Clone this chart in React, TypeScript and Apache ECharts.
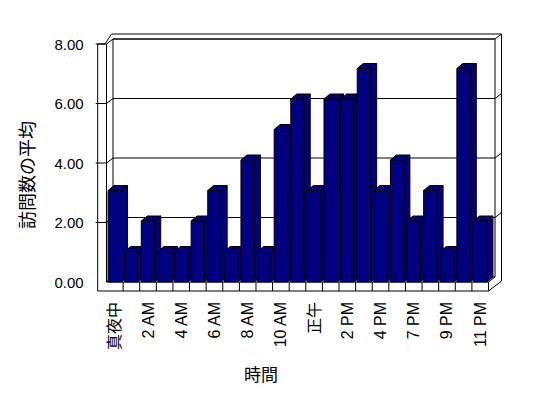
import React, { useEffect, useRef } from "react";
import * as echarts from "echarts";

const categories = [
  "真夜中", "1 AM", "2 AM", "3 AM", "4 AM", "5 AM", "6 AM", "7 AM", "8 AM", "9 AM", "10 AM", "11 AM",
  "正午", "1 PM", "2 PM", "3 PM", "4 PM", "5 PM", "7 PM", "8 PM", "9 PM", "10 PM", "11 PM",
];
const visits = [3, 1, 2, 1, 1, 2, 3, 1, 4, 1, 5, 6, 3, 6, 6, 7, 3, 4, 2, 3, 1, 7, 2];
const yTicks = [0, 2, 4, 6, 8];
const yTitle = "訪問数の平均";
const xTitle = "時間";

const FONT = "'Liberation Sans', Arial, 'Noto Sans CJK JP', sans-serif";

export default function App() {
  const ref = useRef<HTMLDivElement>(null);
  useEffect(() => {
    if (!ref.current) return;
    const chart = echarts.init(ref.current, null, { renderer: "svg" });
    const N = categories.length;
    const D = [6.5, -5];
    const WALL_T = 8.8;
    const FLOOR_T = 9;
    const line = (pts: number[][]) => ({
      type: "polyline",
      shape: { points: pts },
      style: { fill: "none", stroke: "#000", lineWidth: 1 },
    });

    const wallsRender = (params: any, api: any) => {
      const BL = api.coord([0, 0]);
      const BR = api.coord([N, 0]);
      const TL = api.coord([0, 8]);
      const TR = api.coord([N, 8]);
      const frontLeft = TL[0] - D[0];
      const frontRight = BR[0] - D[0];
      const frontTop = TL[1] - D[1];
      const frontBottom = BL[1] - D[1];
      const outerLeft = frontLeft - WALL_T;
      const outerBottom = frontBottom + FLOOR_T;
      const outerRight = BR[0] + D[0];
      const outerTop = TL[1] + D[1];
      const children: any[] = [];
      children.push({
        type: "polygon",
        shape: {
          points: [
            [outerLeft, frontTop],
            [outerLeft + 7.3, frontTop],
            [TL[0] - 1.5, outerTop],
            [outerRight, outerTop],
            [outerRight, outerBottom + 2 * D[1]],
            [frontRight, outerBottom],
            [outerLeft, outerBottom],
          ],
        },
        style: { fill: "#fff", stroke: "#000", lineWidth: 1 },
      });
      children.push({
        type: "rect",
        shape: { x: TL[0], y: TL[1], width: TR[0] - TL[0], height: BL[1] - TL[1] },
        style: { fill: "#fff", stroke: "#000", lineWidth: 1 },
      });
      yTicks.forEach((v) => {
        const y = api.coord([0, v])[1];
        if (v === 0) return;
        children.push(
          line([
            [outerLeft - 2, y - D[1]],
            [frontLeft, y - D[1]],
            [TL[0], y],
            [TR[0], y],
            [outerRight, y + D[1]],
          ])
        );
      });
      // left wall inner front edge
      children.push(line([[frontLeft, frontTop], [frontLeft, frontBottom]]));
      // floor front edge and seams
      children.push(line([[TL[0], BL[1]], [frontLeft, frontBottom], [frontRight, frontBottom], [BR[0], BR[1]]]));
      for (let i = 1; i <= N; i++) {
        const x = api.coord([i, 0])[0] - D[0];
        children.push(line([[x, frontBottom], [x, outerBottom]]));
      }
      return { type: "group", children };
    };

    const barRender = (params: any, api: any) => {
      const idx = api.value(0);
      const val = api.value(1);
      const top = api.coord([idx, val]);
      const base = api.coord([idx, 0]);
      const bw = api.size([1, 0])[0] * 0.81;
      const x0 = top[0] - bw / 2;
      const x1 = top[0] + bw / 2;
      const dx = 6;
      const dy = -5;
      const style = { fill: "#000080", stroke: "#000", lineWidth: 1 };
      return {
        type: "group",
        children: [
          {
            type: "polygon",
            shape: { points: [[x1, top[1]], [x1 + dx, top[1] + dy], [x1 + dx, base[1] + dy], [x1, base[1]]] },
            style,
          },
          {
            type: "polygon",
            shape: { points: [[x0, top[1]], [x0 + dx, top[1] + dy], [x1 + dx, top[1] + dy], [x1, top[1]]] },
            style,
          },
          { type: "rect", shape: { x: x0, y: top[1], width: bw, height: base[1] - top[1] }, style },
        ],
      };
    };

    chart.setOption({
      animation: false,
      backgroundColor: "#fff",
      grid: [
        { left: 106.5, top: 38, width: 382, height: 244 },
        { left: 113, top: 39, width: 382, height: 238 },
        { left: 97.7, top: 44, width: 391, height: 238 },
      ],
      xAxis: [
        {
          gridIndex: 0,
          type: "category",
          data: categories,
          axisLine: { show: false },
          axisTick: { show: false },
          splitLine: { show: false },
          axisLabel: {
            interval: 1,
            rotate: 90,
            margin: 20,
            fontSize: 16,
            color: "#000",
            fontFamily: FONT,
            hideOverlap: false,
          },
        },
        { gridIndex: 1, type: "value", min: 0, max: N, show: false },
        { gridIndex: 2, type: "value", min: 0, max: 1, show: false },
      ],
      yAxis: [
        { gridIndex: 0, type: "value", min: 0, max: 8, interval: 2, show: false },
        { gridIndex: 1, type: "value", min: 0, max: 8, interval: 2, show: false },
        {
          gridIndex: 2,
          type: "value",
          min: 0,
          max: 8,
          interval: 2,
          axisLine: { show: false },
          axisTick: { show: false },
          splitLine: { show: false },
          axisLabel: {
            formatter: (v: number) => v.toFixed(2),
            fontSize: 15,
            color: "#000",
            margin: 14,
            fontFamily: FONT,
          },
        },
      ],
      graphic: [
        {
          type: "text",
          x: 28,
          y: 175,
          rotation: Math.PI / 2,
          style: {
            text: yTitle,
            fontSize: 18,
            fontFamily: FONT,
            fill: "#000",
            align: "center",
            verticalAlign: "middle",
          },
        },
        {
          type: "text",
          x: 261,
          y: 375,
          style: {
            text: xTitle,
            fontSize: 17,
            fontFamily: FONT,
            fill: "#000",
            align: "center",
            verticalAlign: "middle",
          },
        },
      ],
      series: [
        {
          type: "custom",
          xAxisIndex: 1,
          yAxisIndex: 1,
          data: [[0, 0]],
          renderItem: wallsRender,
          clip: false,
          silent: true,
          z: 1,
        },
        {
          type: "custom",
          xAxisIndex: 0,
          yAxisIndex: 0,
          data: visits.map((v, i) => [i, v]),
          encode: { x: 0, y: 1 },
          renderItem: barRender,
          clip: false,
          silent: true,
          z: 2,
        },
      ],
    });
    return () => chart.dispose();
  }, []);
  return (
    <div
      ref={ref}
      style={{ position: "fixed", left: 0, top: 0, width: 548, height: 398, background: "#fff" }}
    />
  );
}
